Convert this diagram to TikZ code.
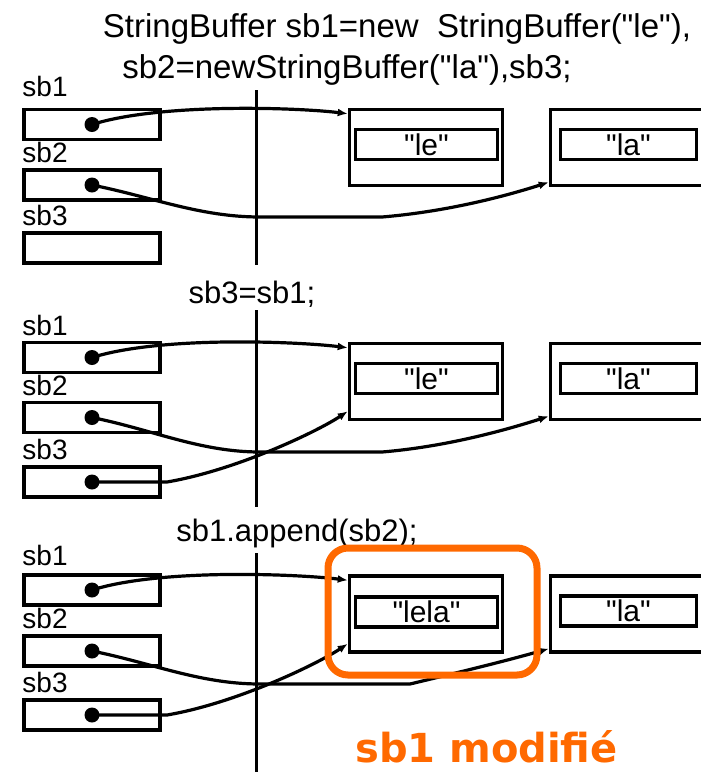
\documentclass[tikz,border=0pt]{standalone}
\usepackage{fontspec}
\newfontfamily\codefont{Liberation Sans}
\newfontfamily\notefont{DejaVu Sans}
\usetikzlibrary{arrows.meta,positioning}
\definecolor{modif}{RGB}{255,105,0}

\begin{document}
\begin{tikzpicture}[
    x=1pt, y=-1pt,
    var/.style={draw, line width=3.5pt, minimum width=136pt, minimum height=30pt, inner sep=0pt},
    obj/.style={draw, line width=3.5pt, minimum width=153pt, minimum height=76pt, inner sep=0pt},
    val/.style={draw, line width=3.5pt, minimum width=142pt, minimum height=30pt, inner sep=0pt, font=\codefont\fontsize{30}{30}\selectfont},
    lbl/.style={inner sep=0pt, font=\codefont\fontsize{28}{28}\selectfont},
    code/.style={inner sep=0pt, anchor=base, font=\codefont\fontsize{33}{33}\selectfont},
    stmt/.style={inner sep=0pt, anchor=base, font=\codefont\fontsize{31}{31}\selectfont},
    dot/.style={circle, fill, inner sep=0pt, minimum size=15pt},
    ref/.style={-{Latex[length=10pt,width=8pt]}, line width=3.2pt},
    sep/.style={line width=3.5pt},
    frame/.style={draw=modif, line width=7pt, rounded corners=20pt, minimum width=209pt, minimum height=127pt},
    note/.style={inner sep=0pt, anchor=base, text=modif, font=\notefont\bfseries\fontsize{40}{40}\selectfont},
  ]
    \useasboundingbox (0,0) rectangle (701,772);
    \clip (0,0) rectangle (701,772);

    % declaration
    \node[code] (t1) at (397,37) {StringBuffer sb1=new\ \ StringBuffer("le"),};
    \node[code] (t2) at (347,78) {sb2=newStringBuffer("la"),sb3;};
    \draw[sep] (256.5,90) -- (256.5,265);
    \node[var] (a1) at (92,124.5) {};
    \node[var] (a2) at (92,185) {};
    \node[var] (a3) at (92,248) {};
    \node[lbl, above right=11pt and 0pt of a1.north west] (n1) {sb1};
    \node[lbl, above right=5pt and 0pt of a2.north west] (n2) {sb2};
    \node[lbl, above right=5pt and 0pt of a3.north west] (n3) {sb3};
    \node[dot] (d1) at (a1) {};
    \node[dot] (d2) at (a2) {};
    \node[obj] (o1) at (426,147.5) {};
    \node[val] (s1) at (426.5,144.5) {"le"};
    \node[obj] (q1) at (627,147.5) {};
    \node[val, minimum width=136pt] (r1) at (628.5,144.5) {"la"};
    \draw[ref] (d1.center) .. controls +(70,-22) and +(-48,-6) .. ([yshift=-6pt]o1.north west);
    \draw[ref] (d2.center) .. controls +(60,12) and +(-60,0) .. (260,217) -- (382,217)
      .. controls +(60,-5) and +(-50,16) .. ([yshift=5pt]q1.south west);

    % sb3=sb1
    \node[stmt] (t3) at (252,303) {sb3=sb1;};
    \draw[sep] (256.5,310) -- (256.5,507);
    \node[var] (a4) at (92,357.5) {};
    \node[var] (a5) at (92,417.5) {};
    \node[var] (a6) at (92,482) {};
    \node[lbl, above right=5pt and 0pt of a4.north west] (n4) {sb1};
    \node[lbl, above right=5pt and 0pt of a5.north west] (n5) {sb2};
    \node[lbl, above right=5pt and 0pt of a6.north west] (n6) {sb3};
    \node[dot] (d4) at (a4) {};
    \node[dot] (d5) at (a5) {};
    \node[dot] (d6) at (a6) {};
    \node[obj] (o2) at (426,381.5) {};
    \node[val] (s2) at (426.5,378.5) {"le"};
    \node[obj] (q2) at (627,381.5) {};
    \node[val, minimum width=136pt] (r2) at (628.5,378.5) {"la"};
    \draw[ref] (d4.center) .. controls +(70,-22) and +(-48,-6) .. ([yshift=-6pt]o2.north west);
    \draw[ref] (d5.center) .. controls +(60,12) and +(-60,0) .. (260,452) -- (382,452)
      .. controls +(60,-5) and +(-50,16) .. ([yshift=5pt]q2.south west);
    \draw[ref] (d6.center) -- ++(75,0) .. controls +(70,-12) and +(-30,20) .. ([yshift=10pt]o2.south west);

    % sb1.append(sb2)
    \node[stmt] (t4) at (297,541) {sb1.append(sb2);};
    \draw[sep] (256.5,553) -- (256.5,772);
    \node[var] (a7) at (92,590) {};
    \node[var] (a8) at (92,651) {};
    \node[var] (a9) at (92,715) {};
    \node[lbl, above right=7pt and 0pt of a7.north west] (n7) {sb1};
    \node[lbl, above right=5pt and 0pt of a8.north west] (n8) {sb2};
    \node[lbl, above right=5pt and 0pt of a9.north west] (n9) {sb3};
    \node[dot] (d7) at (a7) {};
    \node[dot] (d8) at (a8) {};
    \node[dot] (d9) at (a9) {};
    \node[obj] (o3) at (426,614) {};
    \node[val] (s3) at (426.5,612) {"lela"};
    \node[obj] (q3) at (627,614) {};
    \node[val, minimum width=136pt] (r3) at (628.5,611) {"la"};
    \draw[ref] (d7.center) .. controls +(70,-22) and +(-48,-6) .. ([yshift=-6pt]o3.north west);
    \draw[ref] (d8.center) .. controls +(60,12) and +(-60,0) .. (260,684) -- (410,684)
      .. controls +(50,-12) and +(-50,14) .. ([yshift=5pt]q3.south west);
    \draw[ref] (d9.center) -- ++(75,0) .. controls +(70,-12) and +(-30,20) .. ([yshift=10pt]o3.south west);
    \node[frame] (hl) at (432.5,611.5) {};
    \node[note] (m) at (486.5,762) {sb1 modifié};
  \end{tikzpicture}
\end{document}
